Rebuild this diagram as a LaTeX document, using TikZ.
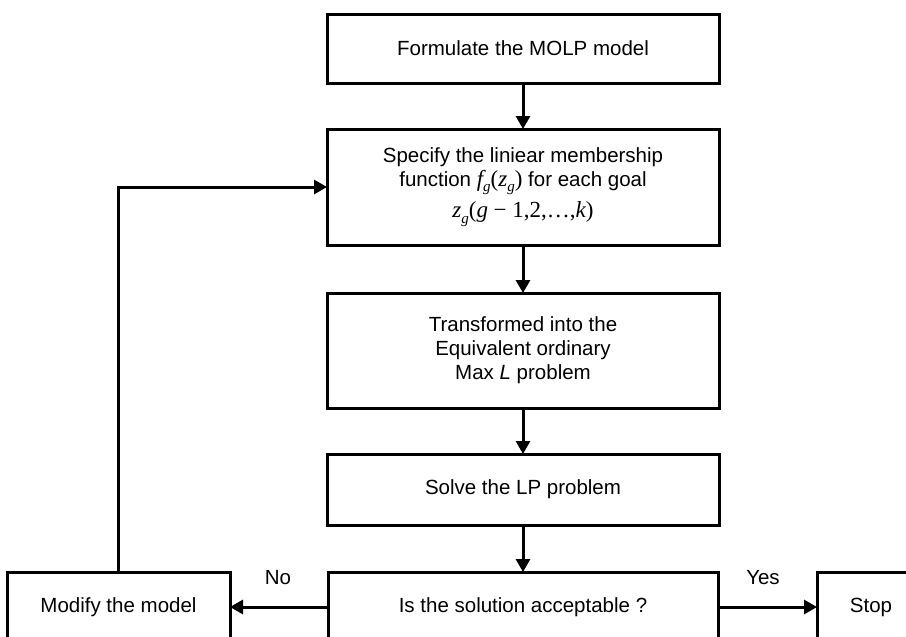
\documentclass[tikz,border=0pt]{standalone}
\usepackage{fontspec}
\setmainfont{Liberation Sans}
\newfontfamily\tmsfont{Liberation Serif}
\usetikzlibrary{arrows.meta}
\newcommand{\mi}[1]{{\tmsfont\itshape\fontsize{23}{26}\selectfont #1}}
\newcommand{\mr}[1]{{\tmsfont\fontsize{23}{26}\selectfont #1}}
\newcommand{\sbs}[1]{\raisebox{-0.28em}{\tmsfont\itshape\fontsize{15}{17}\selectfont #1}}
\tikzset{
  box/.style={draw, line width=3pt, rectangle, inner sep=0pt, outer sep=0pt,
    align=center, font=\fontsize{20.5}{24}\selectfont},
  arr/.style={line width=3pt, -{Triangle[length=13pt,width=14pt]}},
  lbl/.style={font=\fontsize{20.5}{24}\selectfont}
}
\begin{document}
\begin{tikzpicture}[x=1pt,y=-1pt]
\clip (0,0) rectangle (906,637);
\fill[white] (0,0) rectangle (906,637);
\node[box, minimum width=392pt, minimum height=69pt] (top) at (523,48.5) {Formulate the MOLP model};
\node[box, minimum width=392pt, minimum height=116pt] (spec) at (523,187)
  {Specify the liniear membership\\[0pt]
   function \mi{f}\sbs{g}\mr{(}\mi{z}\sbs{g}\mr{)} for each goal\\[6pt]
   \mi{z}\sbs{g}\mr{(}\mi{g} \mr{− 1,2,…,}\mi{k}\mr{)}};
\node[box, minimum width=392pt, minimum height=115pt] (trans) at (523,350.5)
  {Transformed into the\\ Equivalent ordinary\\ Max \textit{L} problem};
\node[box, minimum width=392pt, minimum height=71pt] (solve) at (523,489.5) {Solve the LP problem};
\node[box, minimum width=390pt, minimum height=70pt] (dec) at (523,607) {Is the solution acceptable ?};
\node[box, minimum width=223pt, minimum height=70pt] (modify) at (118.5,607) {Modify the model};
\node[box, minimum width=108pt, minimum height=70pt] (stop) at (871,607) {Stop};
\draw[arr] (top) -- (spec);
\draw[arr] (spec) -- (trans);
\draw[arr] (trans) -- (solve);
\draw[arr] (solve) -- (dec);
\draw[arr] (dec) -- (modify);
\draw[arr] (dec) -- (stop);
\draw[arr] (modify.north) |- (spec.west);
\node[lbl] (no) at (278,578) {No};
\node[lbl] (yes) at (763,578) {Yes};
\end{tikzpicture}
\end{document}
